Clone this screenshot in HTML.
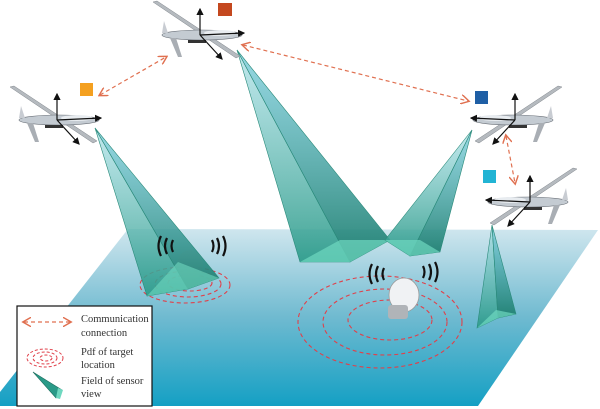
<!DOCTYPE html>
<html><head><meta charset="utf-8"><style>
html,body{margin:0;padding:0;background:#fff;}
svg{display:block;}
text{font-family:"Liberation Serif",serif;font-size:10.5px;fill:#333;}
</style></head><body>
<svg width="600" height="409" viewBox="0 0 600 409" xmlns="http://www.w3.org/2000/svg">
<defs>
<linearGradient id="pl" x1="0" y1="0" x2="0" y2="1">
<stop offset="0" stop-color="#cfe6ee"/><stop offset="0.5" stop-color="#6fbad0"/><stop offset="1" stop-color="#14a0c4"/>
</linearGradient>
<linearGradient id="cone" x1="0" y1="0" x2="0" y2="1">
<stop offset="0" stop-color="#a8dfe6" stop-opacity="0.7"/><stop offset="1" stop-color="#2a9a88" stop-opacity="0.9"/>
</linearGradient>
<linearGradient id="coned" x1="0" y1="0" x2="0" y2="1">
<stop offset="0" stop-color="#6cc8d8" stop-opacity="0.7"/><stop offset="1" stop-color="#1f7f70" stop-opacity="0.95"/>
</linearGradient>
<marker id="ah" markerWidth="8" markerHeight="8" refX="6" refY="4" orient="auto-start-reverse"><path d="M0,0 L7,4 L0,8" fill="none" stroke="#e07050" stroke-width="1.2"/></marker>
<marker id="ab" markerWidth="6" markerHeight="6" refX="5" refY="3" orient="auto"><path d="M0,0 L6,3 L0,6z" fill="#111"/></marker>
<g id="drone">
<polygon points="-47,-33 -43,-34 40,21 36,23" fill="#b5babf" stroke="#80868c" stroke-width="0.5"/>
<ellipse cx="2" cy="0" rx="40" ry="5" fill="#c4cbd2" stroke="#6a7078" stroke-width="0.6"/>
<ellipse cx="20" cy="-2" rx="16" ry="3" fill="#e8ecf0"/>
<polygon points="-38,-2 -36,-14 -32,-2" fill="#c8ccd2"/>
<polygon points="-30,3 -22,22 -18,22 -24,3" fill="#a9aeb4"/>
<rect x="-12" y="5" width="18" height="3" fill="#333"/>
<line x1="0" y1="0" x2="0" y2="-26" stroke="#111" stroke-width="1.2" marker-end="url(#ab)"/>
<line x1="0" y1="0" x2="44" y2="-2" stroke="#111" stroke-width="1.2" marker-end="url(#ab)"/>
<line x1="0" y1="0" x2="22" y2="24" stroke="#111" stroke-width="1.2" marker-end="url(#ab)"/>
</g>
</defs>
<polygon points="128,229 598,230 478,406 0,406 0,392" fill="url(#pl)"/>
<g fill="none" stroke="#e0404a" stroke-width="1.1" stroke-dasharray="4,3">
<ellipse cx="185" cy="285" rx="45" ry="18"/><ellipse cx="188" cy="284" rx="33" ry="13"/><ellipse cx="190" cy="283" rx="22" ry="8"/>
<ellipse cx="380" cy="322" rx="82" ry="46"/><ellipse cx="385" cy="322" rx="62" ry="33"/><ellipse cx="390" cy="320" rx="42" ry="20"/>
</g>
<ellipse cx="190" cy="265" rx="13" ry="15" fill="#c8ccd0" opacity="0.8"/>
<polygon points="95,128 147,296 188,289" fill="url(#cone)" stroke="#2a8a7a" stroke-width="0.6"/>
<polygon points="95,128 188,289 219,278" fill="url(#coned)" stroke="#2a8a7a" stroke-width="0.6"/>
<polygon points="147,296 188,289 219,278 178,262" fill="#6fd8c0" opacity="0.6"/>
<polygon points="237,50 300,262 350,262" fill="url(#cone)" stroke="#2a8a7a" stroke-width="0.6"/>
<polygon points="237,50 350,262 390,240" fill="url(#coned)" stroke="#2a8a7a" stroke-width="0.6"/>
<polygon points="300,262 350,262 390,240 340,240" fill="#6fd8c0" opacity="0.7"/>
<polygon points="472,130 385,240 410,256" fill="url(#cone)" stroke="#2a8a7a" stroke-width="0.6"/>
<polygon points="472,130 410,256 440,252" fill="url(#coned)" stroke="#2a8a7a" stroke-width="0.6"/>
<polygon points="385,240 410,256 440,252 420,240" fill="#6fd8c0" opacity="0.7"/>
<polygon points="492,225 477,328 498,318" fill="url(#cone)" stroke="#2a8a7a" stroke-width="0.6"/>
<polygon points="492,225 498,318 516,314" fill="url(#coned)" stroke="#2a8a7a" stroke-width="0.6"/>
<polygon points="477,328 498,318 516,314 496,310" fill="#6fd8c0" opacity="0.7"/>
<g>
<ellipse cx="404" cy="295" rx="15" ry="17" fill="#f0f2f4" stroke="#999" stroke-width="0.8"/>
<rect x="388" y="305" width="20" height="14" rx="3" fill="#b0b4b8"/>
</g>
<g fill="none" stroke="#111" stroke-width="2.2">
<path d="M161,236 q-5,10 0,20"/><path d="M167,238 q-4,8 0,16"/><path d="M173,240 q-3,6 0,12"/>
<path d="M212,240 q3,6 0,12"/><path d="M217,238 q4,8 0,16"/><path d="M223,236 q5,10 0,20"/>
<path d="M372,264 q-5,10 0,20"/><path d="M378,266 q-4,8 0,16"/><path d="M384,268 q-3,6 0,12"/>
<path d="M423,266 q3,6 0,12"/><path d="M429,264 q4,8 0,16"/><path d="M435,262 q5,10 0,20"/>
</g>
<use href="#drone" transform="translate(57,120)"/>
<use href="#drone" transform="translate(200,35)"/>
<use href="#drone" transform="translate(515,120) scale(-1,1)"/>
<use href="#drone" transform="translate(530,202) scale(-1,1)"/>
<rect x="80" y="83" width="13" height="13" fill="#f4a020"/>
<rect x="218" y="3" width="14" height="13" fill="#c4481f"/>
<rect x="475" y="91" width="13" height="13" fill="#1f5fa5"/>
<rect x="483" y="170" width="13" height="13" fill="#22b4d4"/>
<g stroke="#e07050" stroke-width="1.2" stroke-dasharray="4,3" fill="none">
<line x1="100" y1="95" x2="166" y2="57" marker-end="url(#ah)" marker-start="url(#ah)"/>
<line x1="243" y1="45" x2="468" y2="101" marker-end="url(#ah)" marker-start="url(#ah)"/>
<line x1="506" y1="136" x2="515" y2="183" marker-end="url(#ah)" marker-start="url(#ah)"/>
</g>
<rect x="17" y="306" width="135" height="100" fill="#fff" stroke="#111" stroke-width="1.2"/>
<line x1="24" y1="322" x2="70" y2="322" stroke="#e07050" stroke-width="1.2" stroke-dasharray="4,3" marker-end="url(#ah)" marker-start="url(#ah)"/>
<text x="81" y="322">Communication</text>
<text x="81" y="336">connection</text>
<g fill="none" stroke="#e0404a" stroke-width="1" stroke-dasharray="3,2">
<ellipse cx="45" cy="358" rx="18" ry="9"/><ellipse cx="45" cy="358" rx="12" ry="6"/><ellipse cx="46" cy="358" rx="6" ry="3"/>
</g>
<text x="81" y="355">Pdf of target</text>
<text x="81" y="368">location</text>
<polygon points="33,372 62,390 56,398" fill="#2a9a88" stroke="#1f6f60" stroke-width="0.6"/>
<polygon points="58,388 63,390 60,399 56,398" fill="#6fd8c0"/>
<text x="81" y="384">Field of sensor</text>
<text x="81" y="397">view</text>
</svg>
</body></html>
